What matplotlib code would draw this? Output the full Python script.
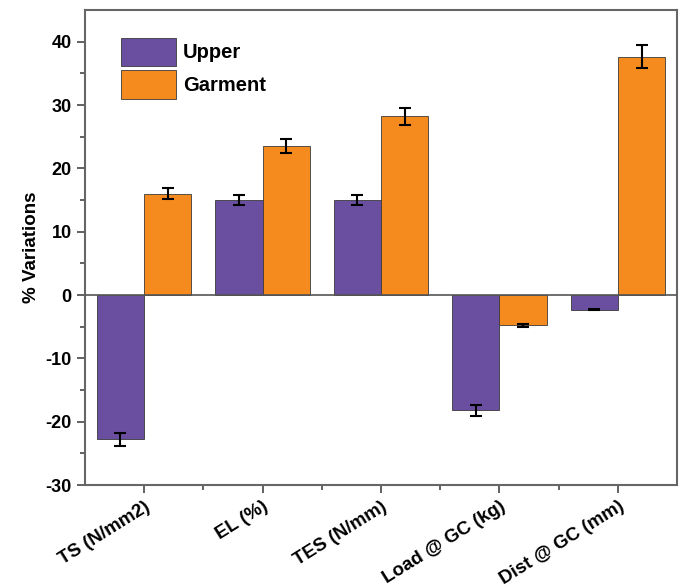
import numpy as np
from matplotlib import pyplot as plt

plt.rcParams['font.family'] = ['Liberation Sans', 'DejaVu Sans']
plt.rcParams['font.weight'] = 'bold'
plt.rcParams['axes.unicode_minus'] = False

categories = ["TS (N/mm2)", "EL (%)", "TES (N/mm)", "Load @ GC (kg)", "Dist @ GC (mm)"]
upper = [-22.8, 15.0, 15.0, -18.2, -2.3]
upper_err = [1.0, 0.8, 0.8, 0.9, 0.1]
garment = [16.0, 23.6, 28.2, -4.8, 37.6]
garment_err = [0.9, 1.1, 1.4, 0.2, 1.8]

x = np.arange(1, len(categories) + 1)
w = 0.4

fig = plt.figure(figsize=(6.84, 5.88), dpi=100)
ax = fig.add_axes([0.124, 0.175, 0.866, 0.808])

err_kw = dict(ecolor="black", elinewidth=1.5, capsize=4, capthick=1.5)
ax.bar(x - w / 2, upper, w, yerr=upper_err, color="#6a4fa0",
       edgecolor="#3a3a3a", linewidth=0.6, label="Upper", error_kw=err_kw)
ax.bar(x + w / 2, garment, w, yerr=garment_err, color="#f58a1f",
       edgecolor="#3a3a3a", linewidth=0.6, label="Garment", error_kw=err_kw)

ax.axhline(0, color="#555555", linewidth=1.2, zorder=3)

ax.set_xlim(0.5, 5.5)
ax.set_ylim(-30, 45)
ax.set_yticks([-30, -20, -10, 0, 10, 20, 30, 40])
ax.set_yticks(np.arange(-25, 45, 10), minor=True)
ax.set_xticks(x)
ax.set_xticks(x[:-1] + 0.5, minor=True)
ax.set_xticklabels(categories, rotation=32, ha="right", rotation_mode="anchor",
                   fontsize=13.5, fontweight="bold")
for lab in ax.get_yticklabels():
    lab.set_fontsize(13)
    lab.set_fontweight("bold")
ax.tick_params(axis="both", which="major", direction="out", length=6,
               width=1.3, color="#555555")
ax.tick_params(axis="both", which="minor", direction="out", length=3.5,
               width=1.3, color="#555555")
ax.tick_params(top=False, right=False)

for s in ax.spines.values():
    s.set_color("#666666")
    s.set_linewidth(1.5)

ax.set_ylabel("% Variations", fontsize=13.5, fontweight="bold", labelpad=4)

ax.legend(loc="upper left", bbox_to_anchor=(0.03, 0.98), frameon=False,
          handlelength=2.75, handleheight=1.8, labelspacing=0.2,
          handletextpad=0.35, prop={"weight": "bold", "size": 14.5})

plt.savefig("out.png", dpi=100)
